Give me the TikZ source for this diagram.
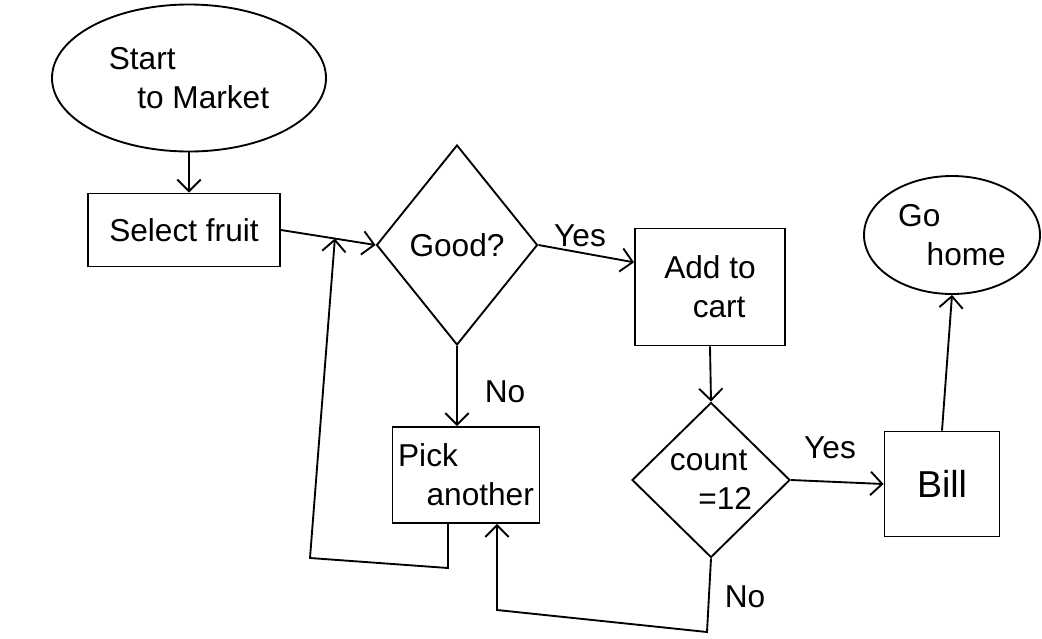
\documentclass[tikz,border=0pt]{standalone}
\usepackage{fontspec}
\setmainfont{Liberation Sans}
\usetikzlibrary{shapes.geometric,arrows.meta,calc}
\begin{document}
\begin{tikzpicture}[x=0.03cm,y=-0.03cm,line width=1.6pt,
  every node/.style={font=\fontsize{27}{33}\selectfont},
  shp/.style={draw, inner sep=0pt},
  box/.style={shp, rectangle},
  oval/.style={shp, ellipse},
  dec/.style={shp, diamond},
  flow/.style={-{Straight Barb[length=10pt,width=20pt]}},
  lbl/.style={font=\fontsize{27}{33}\selectfont}]
\useasboundingbox (0,0) rectangle (1042,638);

% nodes
\node[oval, minimum width=8.22cm, minimum height=4.41cm, align=left] (start) at (189,78) {Start\\\hspace{0.9em}to Market};
\node[box, minimum width=5.76cm, minimum height=2.19cm] (select) at (184,230) {Select fruit};
\node[dec, minimum width=4.83cm, minimum height=6cm] (good) at (457,245) {Good?};
\node[box, minimum width=4.5cm, minimum height=3.51cm, align=left] (add) at (710,287) {Add to\\\hspace{0.9em}cart};
\node[box, minimum width=4.41cm, minimum height=2.88cm, align=left] (pick) at (466,475) {Pick\\\hspace{0.9em}another};
\node[dec, minimum width=4.74cm, minimum height=4.65cm, align=left] (count) at (711,480) {count\\\hspace{0.9em}=12};
\node[box, minimum width=3.45cm, minimum height=3.15cm, font=\fontsize{32}{38}\selectfont] (bill) at (942,484) {Bill};
\node[oval, minimum width=5.28cm, minimum height=3.54cm, align=left] (home) at (952,235) {Go\\\hspace{0.9em}home};

% labels
\node[lbl] (yes1) at (580,236) {Yes};
\node[lbl] (no1) at (505,392) {No};
\node[lbl] (yes2) at (830,448) {Yes};
\node[lbl] (no2) at (745,597) {No};

% helper coordinates
\coordinate (merge) at ($(select.east)!0.57!(good.west)$);
\coordinate (l1) at (448,568);
\coordinate (l2) at (310,558);
\coordinate (c1) at (707,632);
\coordinate (c2) at (497,610);

% connectors
\draw[flow] (start.south) -- (select.north -| start.south);
\draw[flow] (select.east) -- (good.west);
\draw[flow] (good.east) -- (add.162);
\draw[flow] (add.south) -- (count.north);
\draw[flow] (count.east) -- (bill.west);
\draw[flow] (bill.north) -- (home.south);
\draw[flow] (good.south) -- (pick.north -| good.south);
\draw[flow] (pick.south -| l1) -- (l1) -- (l2) -- (merge);
\draw[flow] (count.south) -- (c1) -- (c2) -- (pick.south -| c2);
\end{tikzpicture}
\end{document}
